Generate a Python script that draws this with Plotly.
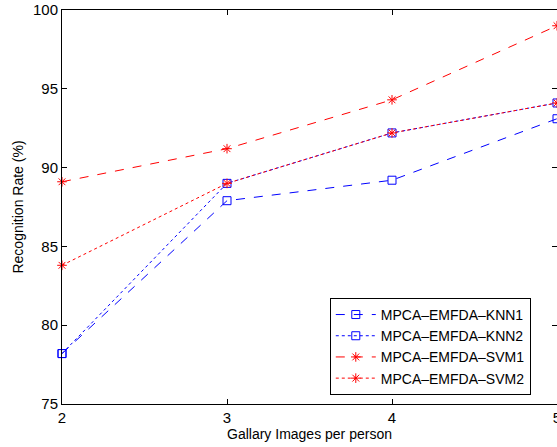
import plotly.graph_objects as go

gallery = [2, 3, 4, 5]
knn1 = [78.2, 87.9, 89.2, 93.1]
knn2 = [78.2, 89.0, 92.2, 94.1]
svm1 = [89.1, 91.2, 94.3, 99.0]
svm2 = [83.8, 89.0, 92.2, 94.1]

names = ["MPCA\u2013EMFDA\u2013KNN1", "MPCA\u2013EMFDA\u2013KNN2",
         "MPCA\u2013EMFDA\u2013SVM1", "MPCA\u2013EMFDA\u2013SVM2"]

fig = go.Figure()
specs = [
    (knn1, "#0000FF", "dash", "square-open"),
    (knn2, "#0000FF", "dot", "square-open"),
    (svm1, "#FF0000", "dash", "asterisk-open"),
    (svm2, "#FF0000", "dot", "asterisk-open"),
]
for (vals, col, dash, sym), nm in zip(specs, names):
    fig.add_trace(go.Scatter(
        x=gallery, y=vals, name=nm, mode="lines+markers",
        line=dict(color=col, dash=dash, width=1),
        marker=dict(symbol=sym, size=8, color=col, line=dict(color=col, width=1)),
        cliponaxis=False,
    ))

font = "Liberation Sans, Arial, sans-serif"
axis_common = dict(
    showline=True, linecolor="black", linewidth=1, mirror="ticks",
    ticks="inside", ticklen=5, tickcolor="black", showgrid=False, zeroline=False,
    tickfont=dict(family=font, size=15, color="black"), automargin=False,
    ticklabeloverflow="allow",
)
fig.update_layout(
    width=557, height=447,
    margin=dict(l=62, r=0, t=10, b=43),
    paper_bgcolor="white", plot_bgcolor="white",
    font=dict(family=font, color="black"),
    xaxis=dict(range=[2, 5], tickvals=gallery, title=dict(text="Gallary Images per person", font=dict(size=14), standoff=0), **axis_common),
    yaxis=dict(range=[75, 100], tickvals=[75, 80, 85, 90, 95, 100], title=dict(text="Recognition Rate (%)", font=dict(size=14), standoff=6), **axis_common),
    legend=dict(x=0.541, y=0.023, xanchor="left", yanchor="bottom",
                bgcolor="white", bordercolor="black", borderwidth=1,
                font=dict(family=font, size=14, color="black"),
                tracegroupgap=0, itemwidth=40),
    showlegend=True,
)
post = ("document.body.style.margin='0';document.body.style.overflow='hidden';"
        "var gd=document.getElementById('{plot_id}');"
        "Plotly.relayout(gd,{width:557,height:447});")
fig.write_html("out.html", post_script=post,
               config={"responsive": False, "displayModeBar": False})
